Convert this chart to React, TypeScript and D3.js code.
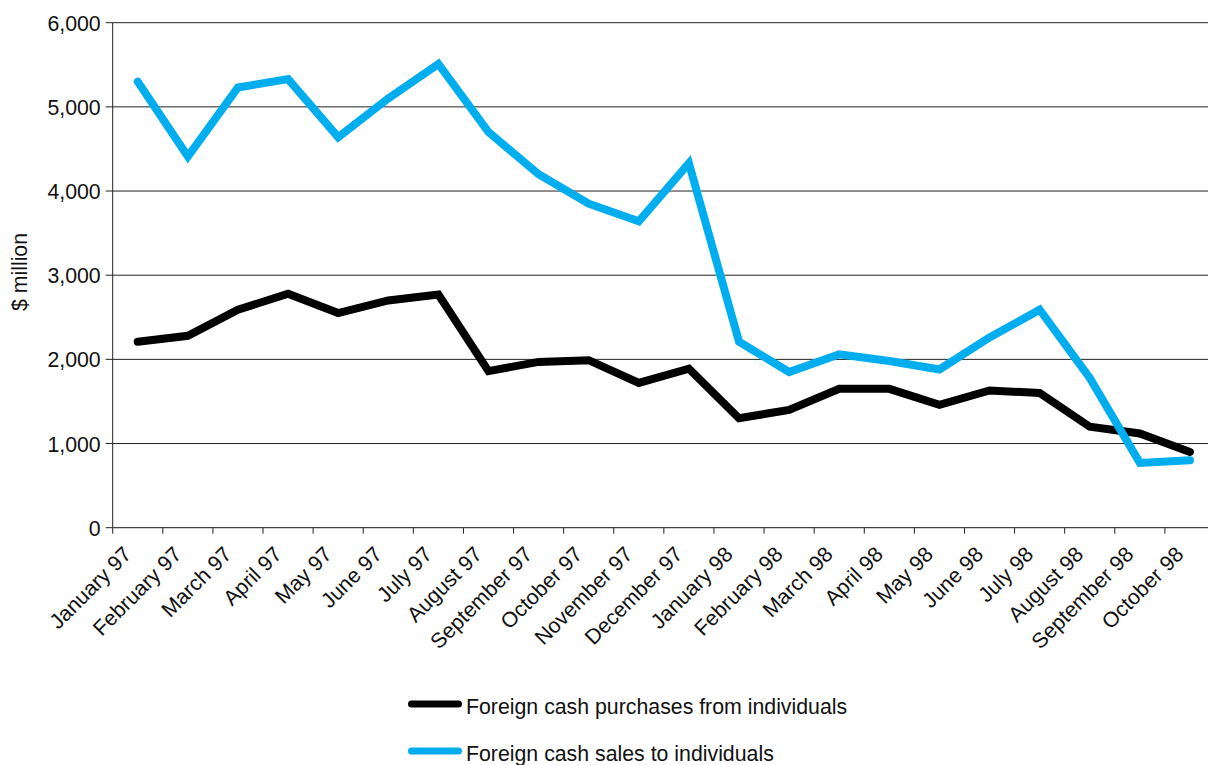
import * as d3 from "d3";

const months = [
  "January 97", "February 97", "March 97", "April 97", "May 97", "June 97",
  "July 97", "August 97", "September 97", "October 97", "November 97", "December 97",
  "January 98", "February 98", "March 98", "April 98", "May 98", "June 98",
  "July 98", "August 98", "September 98", "October 98",
];

const purchases = [
  2210, 2280, 2590, 2780, 2550, 2700, 2770, 1860, 1970, 1990, 1720, 1890,
  1300, 1400, 1650, 1650, 1460, 1630, 1600, 1200, 1120, 900,
];

const sales = [
  5300, 4410, 5230, 5330, 4640, 5100, 5510, 4700, 4200, 3850, 3640, 4330,
  2210, 1850, 2060, 1980, 1880, 2260, 2590, 1780, 770, 800,
];

const yTicks = [0, 1000, 2000, 3000, 4000, 5000, 6000];

const seriesNames = [
  "Foreign cash purchases from individuals",
  "Foreign cash sales to individuals",
];
const seriesColors = ["#000000", "#00aeef"];

const font = "'Liberation Sans', Arial, Helvetica, sans-serif";

export default function App() {
  const width = 1208;
  const height = 765;
  const margin = { top: 22.7, left: 112.7, bottom: 527.7 };
  const plotRight = 1215;
  const fs = 21.3;

  const x = d3
    .scaleBand()
    .domain(months)
    .range([margin.left, plotRight]);

  const y = d3
    .scaleLinear()
    .domain([0, 6000])
    .range([margin.bottom, margin.top]);

  const line = d3
    .line<number>()
    .x((_, i) => (x(months[i]) ?? 0) + x.bandwidth() / 2)
    .y((d) => y(d));

  const series = [purchases, sales];
  const boundaries = months.map((m) => x(m) ?? 0);

  return (
    <div style={{ width, height, overflow: "hidden" }}>
      <style>{"body{margin:0}"}</style>
      <svg width={width} height={height} style={{ display: "block", fontFamily: font }}>
        <rect width={width} height={height} fill="#fff" />

        {yTicks.map((t) => (
          <g key={t}>
            {t > 0 && (
              <line
                x1={margin.left}
                x2={width}
                y1={y(t)}
                y2={y(t)}
                stroke="#222"
                strokeWidth={1}
              />
            )}
            <line x1={margin.left - 7} x2={margin.left} y1={y(t)} y2={y(t)} stroke="#222" />
            <text
              x={margin.left - 12}
              y={y(t) + 8}
              textAnchor="end"
              fontSize={fs}
              fill="#111"
            >
              {d3.format(",")(t)}
            </text>
          </g>
        ))}

        <line x1={margin.left} x2={margin.left} y1={margin.top} y2={margin.bottom} stroke="#222" />
        <line x1={margin.left} x2={width} y1={margin.bottom} y2={margin.bottom} stroke="#444" strokeWidth={1.3} />

        {boundaries.map((bx, i) => (
          <line key={i} x1={bx} x2={bx} y1={margin.bottom} y2={margin.bottom + 6} stroke="#222" />
        ))}

        {months.map((m) => {
          const cx = (x(m) ?? 0) + x.bandwidth() / 2;
          return (
            <text
              key={m}
              transform={`translate(${cx - 5},${margin.bottom + 28}) rotate(-45)`}
              textAnchor="end"
              fontSize={fs}
              fill="#111"
            >
              {m}
            </text>
          );
        })}

        <text
          transform={`translate(27,272) rotate(-90)`}
          textAnchor="middle"
          fontSize={fs}
          fill="#111"
        >
          $ million
        </text>

        {series.map((s, i) => (
          <path
            key={i}
            d={line(s) ?? ""}
            fill="none"
            stroke={seriesColors[i]}
            strokeWidth={8}
            strokeLinejoin="miter"
            strokeLinecap="round"
          />
        ))}

        {seriesNames.map((name, i) => {
          const ly = 704 + i * 47;
          return (
            <g key={name}>
              <line
                x1={411.5}
                x2={458.5}
                y1={ly}
                y2={ly}
                stroke={seriesColors[i]}
                strokeWidth={7}
                strokeLinecap="round"
              />
              <text x={466} y={ly + 10} fontSize={fs} fill="#111">
                {name}
              </text>
            </g>
          );
        })}
      </svg>
    </div>
  );
}
